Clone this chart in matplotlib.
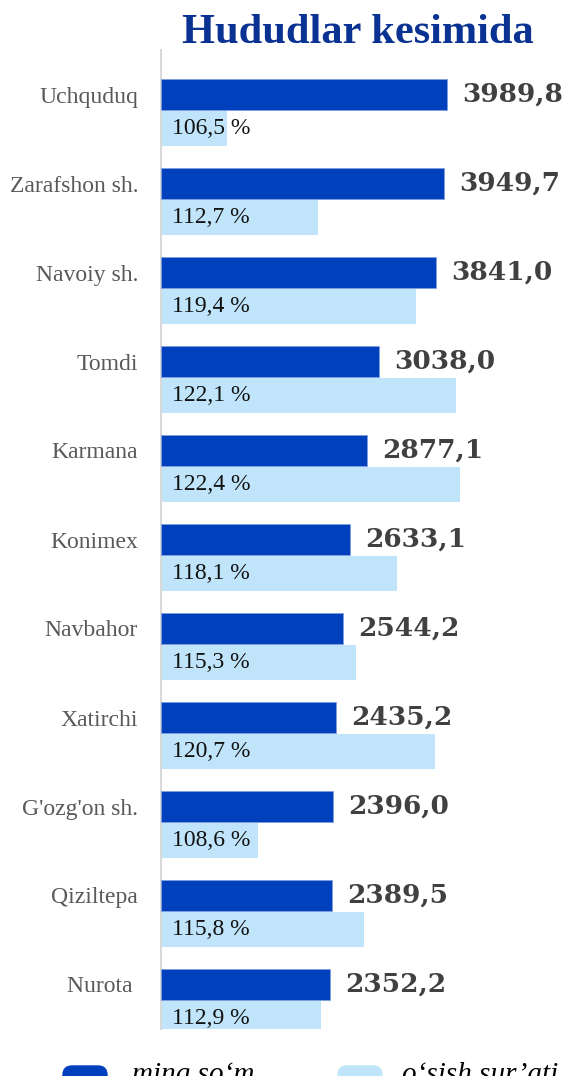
import matplotlib.pyplot as plt
from matplotlib.patches import FancyBboxPatch

# Ma'lumotlar
hududlar = ["Uchquduq", "Zarafshon sh.", "Navoiy sh.", "Tomdi", "Karmana", "Konimex",
            "Navbahor", "Xatirchi", "G'ozg'on sh.", "Qiziltepa", "Nurota "]
ming_som = [3989.8, 3949.7, 3841.0, 3038.0, 2877.1, 2633.1, 2544.2, 2435.2, 2396.0, 2389.5, 2352.2]
osish = [106.5, 112.7, 119.4, 122.1, 122.4, 118.1, 115.3, 120.7, 108.6, 115.8, 112.9]

TOQ = "#0040BC"
OCH = "#C0E4FA"

plt.rcParams["font.family"] = ["Liberation Serif", "DejaVu Serif"]


def vergul(x):
    return f"{x:.1f}".replace(".", ",")


fig = plt.figure(figsize=(5.66, 10.76), dpi=100)
ax = fig.add_axes([161 / 566, 47 / 1076, 405 / 566, 979 / 1076])
ax2 = ax.twiny()
pos = list(range(len(hududlar)))

# o'sish sur'ati (pastki o'q)
ax.barh([p + 0.38 for p in pos], osish, height=0.40, color=OCH, zorder=1)
for p, v in zip(pos, osish):
    ax.annotate(f"{vergul(v)} %", xy=(102, p + 0.38), xytext=(8, 0),
                textcoords="offset points", va="center", fontsize=17, color="#111111")

# ming so'm (ustki o'q)
ax2.barh(pos, ming_som, height=0.35, color=TOQ, edgecolor="#7f9ee0", linewidth=0.6)
for p, v in zip(pos, ming_som):
    ax2.annotate(vergul(v), xy=(v, p), xytext=(11, 0), textcoords="offset points",
                 va="center", fontsize=19, fontweight="bold", family="DejaVu Serif",
                 color="#404040", annotation_clip=False)

ax.set_xlim(102, 129.6)
ax2.set_xlim(0, 5650)
ax.set_ylim(10.5, -0.5)

ax.set_yticks(pos)
ax.set_yticklabels(hududlar)
ax.tick_params(axis="y", length=0, pad=16.5, labelsize=17, labelcolor="#595959")
ax.set_xticks([])
ax2.set_xticks([])
for s in ["top", "right", "bottom"]:
    ax.spines[s].set_visible(False)
ax.spines["left"].set_color("#D9D9D9")
ax.spines["left"].set_linewidth(1.5)
for s in ax2.spines.values():
    s.set_visible(False)

fig.text(358 / 566, 1 - 33 / 1076, "Hududlar kesimida", ha="center", va="center",
         fontsize=30.5, fontweight="bold", color="#0A3292")

# legenda
for x0, c in [(0.63, TOQ), (3.38, OCH)]:
    fig.add_artist(FancyBboxPatch((x0, -0.12), 0.44, 0.22,
                                  boxstyle="round,pad=0,rounding_size=0.09",
                                  transform=fig.dpi_scale_trans, color=c))
fig.text(132 / 566, -6 / 1076, "ming so‘m", style="italic", fontsize=21, va="baseline")
fig.text(402 / 566, -6 / 1076, "o‘sish sur’ati", style="italic", fontsize=21, va="baseline")

fig.savefig("out.png", dpi=100)
